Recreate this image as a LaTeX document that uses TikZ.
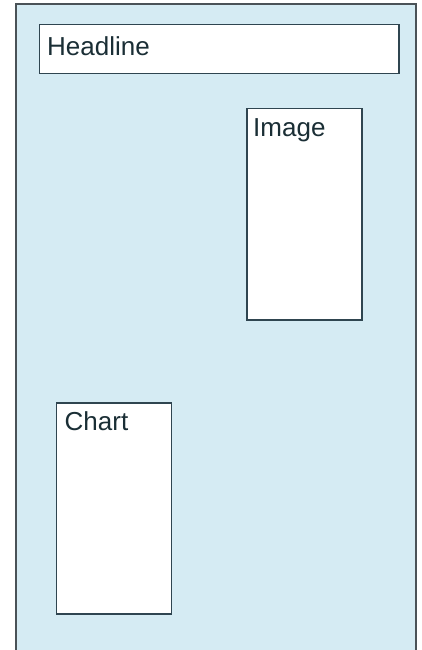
\documentclass[tikz,border=0pt]{standalone}
\usepackage{fontspec}
\setmainfont{Liberation Sans}
\usetikzlibrary{positioning}
\definecolor{pagebg}{HTML}{D5EBF3}
\definecolor{frameline}{HTML}{4A5257}
\definecolor{boxline}{HTML}{2F4550}
\definecolor{ink}{HTML}{1A2E35}

\begin{document}
\begin{tikzpicture}[
			x=1pt, y=-1pt,
			slot/.style={rectangle, draw=boxline, line width=1.5pt, fill=white, inner sep=0pt, anchor=north west},
			caption/.style={anchor=base west, inner sep=0pt, text=ink, font=\fontsize{26}{30}\selectfont}
			]
			
			\useasboundingbox (0,0) rectangle (422,650);
			\fill[pagebg] (16,4) rectangle (416,660);
			\draw[frameline, line width=1.5pt] (16,660) -- (16,4) -- (416,4) -- (416,660);
			
			\node[slot, minimum width=359.5, minimum height=49] (headline) at (38.5,24) {};
			\node[slot, minimum width=115, minimum height=211] (image) at (246,108) {};
			\node[slot, minimum width=115, minimum height=211] (chart) at (55.5,402) {};
			
			\node[caption] (headlinetxt) at ([shift={(8.5,32)}]headline.north west) {Headline};
			\node[caption] (imagetxt) at ([shift={(7,28)}]image.north west) {Image};
			\node[caption] (charttxt) at ([shift={(9,28)}]chart.north west) {Chart};
		\end{tikzpicture}
\end{document}
